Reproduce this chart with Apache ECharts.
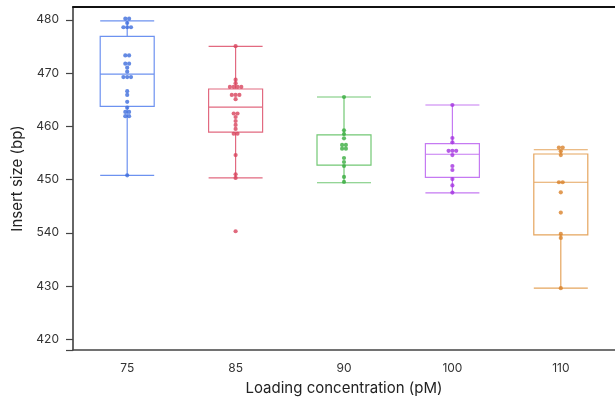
<!DOCTYPE html>
<html>
<head>
    <meta charset="UTF-8">
    <title>Insert size</title>
    <script src="https://cdn.jsdelivr.net/npm/echarts@6/dist/echarts.min.js"></script>
    <style>
        html, body { margin: 0; padding: 0; background: #fff; }
        #main { width: 615px; height: 402px; }
    </style>
</head>
<body>
    <div id="main"></div>
    <script type="text/javascript">
        // categories (pM)
        var categories = ['75', '85', '90', '100', '110'];

        // box stats: [min, Q1, median, Q3, max]
        var box75 = [450.8, 463.75, 469.8, 476.9, 479.8];
        var box85 = [450.3, 458.9, 463.6, 467.0, 475.0];
        var box90 = [449.4, 452.7, 452.7, 458.4, 465.5];
        var box100 = [447.5, 450.4, 454.75, 456.75, 464.0];
        var box110 = [429.6, 439.6, 449.5, 454.8, 455.6];

        // individual points
        var pts75 = [480.2, 480.2, 479.4, 478.6, 478.6, 478.6, 473.3, 473.3, 471.75, 471.75, 471.0, 470.25,
            469.25, 469.25, 469.25, 466.6, 465.9, 464.6, 463.5, 462.7, 462.7, 461.9, 461.9, 450.8];
        var pts85 = [475.05, 468.75, 468.1, 467.4, 467.4, 467.4, 467.4, 465.9, 465.9, 465.9, 465.1,
            462.4, 462.4, 461.75, 461.0, 460.25, 459.5, 458.6, 458.6, 454.6, 451.0, 450.3, 440.3];
        var pts90 = [465.5, 459.25, 458.55, 457.75, 456.5, 456.5, 455.8, 455.8, 454.05, 453.3, 452.55, 450.5, 449.55];
        var pts100 = [464.0, 457.8, 457.0, 455.4, 455.4, 455.4, 454.6, 452.55, 451.8, 450.1, 448.9, 447.55];
        var pts110 = [456.0, 456.0, 455.3, 454.6, 449.5, 449.5, 447.6, 443.8, 439.8, 439.05, 429.6];

        // y axis ticks and their printed labels
        var yTickValues = [420, 430, 440, 450, 460, 470, 480];
        var yTickLabels = ['420', '430', '540', '450', '460', '470', '480'];

        var boxColors = ['#6d92f0', '#e26a80', '#72c874', '#c57af2', '#e5a55e'];
        var dotColors = ['#3d6ddc', '#d8435c', '#39ad40', '#a232e0', '#d9822a'];

        var boxes = [box75, box85, box90, box100, box110];
        var points = [pts75, pts85, pts90, pts100, pts110];

        var boxData = boxes.map(function (b, i) {
            return { value: b, itemStyle: { borderColor: boxColors[i], color: 'rgba(0,0,0,0)', borderWidth: 1.2 } };
        });

        // simple swarm: equal values are spread side by side
        var step = 3.8;
        var dotData = [];
        points.forEach(function (arr, i) {
            var counts = {};
            arr.forEach(function (v) { counts[v] = (counts[v] || 0) + 1; });
            var seen = {};
            arr.forEach(function (v) {
                var k = seen[v] || 0;
                seen[v] = k + 1;
                var dx = (k - (counts[v] - 1) / 2) * step;
                dotData.push({ value: [i, v], symbolOffset: [dx, 0], itemStyle: { color: dotColors[i] } });
            });
        });

        var myChart = echarts.init(document.getElementById('main'));

        var textFont = 'Inter, "Noto Sans", sans-serif';

        var option = {
            animation: false,
            grid: { left: 73, right: -4, top: 7, bottom: 52 },
            xAxis: [{
                type: 'category',
                data: categories,
                boundaryGap: true,
                name: 'Loading concentration (pM)',
                nameLocation: 'middle',
                nameGap: 31,
                nameTextStyle: { fontSize: 15, color: '#222', fontFamily: textFont },
                axisLine: { lineStyle: { color: '#444', width: 1.5 } },
                axisTick: { show: false },
                axisLabel: { fontSize: 12, color: '#333', margin: 12, fontFamily: textFont },
                splitLine: { show: false }
            }, {
                type: 'value',
                position: 'top',
                min: 0, max: 1,
                axisLine: { show: true, lineStyle: { color: '#111', width: 2 } },
                axisTick: { show: false },
                axisLabel: { show: false },
                splitLine: { show: false }
            }],
            yAxis: {
                type: 'value',
                min: 418,
                max: 482.4,
                name: 'Insert size (bp)',
                nameLocation: 'middle',
                nameGap: 47,
                nameTextStyle: { fontSize: 15, color: '#222', fontFamily: textFont },
                axisLine: { show: true, lineStyle: { color: '#333', width: 1.5 } },
                axisTick: {
                    show: true, length: 7,
                    customValues: [418].concat(yTickValues),
                    lineStyle: { color: '#444', width: 1.2 }
                },
                axisLabel: {
                    fontSize: 12, color: '#333', margin: 14, fontFamily: textFont,
                    customValues: yTickValues,
                    formatter: function (v) {
                        var idx = yTickValues.indexOf(v);
                        return idx >= 0 ? yTickLabels[idx] : '';
                    }
                },
                splitLine: { show: false }
            },
            series: [{
                type: 'boxplot',
                data: boxData,
                boxWidth: [54, 54],
                z: 2
            }, {
                type: 'scatter',
                data: dotData,
                symbolSize: 4.2,
                z: 3
            }]
        };

        myChart.setOption(option);
    </script>
</body>
</html>
